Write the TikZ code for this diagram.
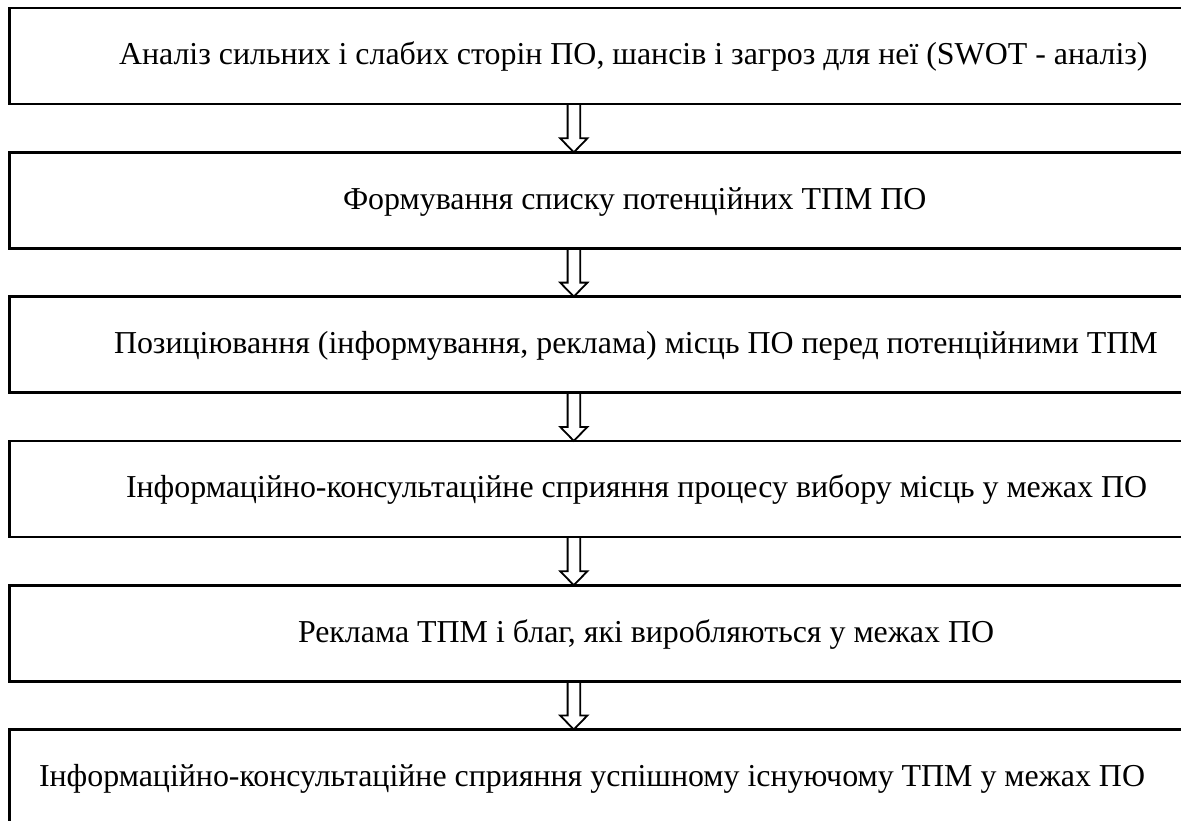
\documentclass[tikz,border=0pt]{standalone}
\usepackage{fontspec}
\setmainfont{Liberation Serif}
\tikzset{
  box/.style={draw, line width=2.6pt, rectangle, minimum width=1191pt, minimum height=96pt, outer sep=0pt, inner sep=0pt, anchor=north west},
  lbl/.style={anchor=base west, inner sep=0pt, outer sep=0pt, font=\fontsize{31.9}{38}\selectfont},
  harrow/.style={draw, line width=1.8pt, line join=miter}
}
\newcommand\hollowarr[2]{%
  \draw[harrow] ([xshift=-37.4pt]#1.south) -- ([xshift=-37.4pt,yshift=14pt]#2.north)
    -- ([xshift=-44.8pt,yshift=14pt]#2.north) -- ([xshift=-31.2pt]#2.north)
    -- ([xshift=-17.6pt,yshift=14pt]#2.north) -- ([xshift=-24.8pt,yshift=14pt]#2.north)
    -- ([xshift=-24.8pt]#1.south);%
}
\begin{document}
\begin{tikzpicture}[x=1pt,y=-1pt]
\useasboundingbox (0,0) rectangle (1181,821);
\clip (0,0) rectangle (1181,821);
\node[box] (b1) at (9.5,8) {};
\node[box] (b2) at (9.5,152.3) {};
\node[box] (b3) at (9.5,296.6) {};
\node[box] (b4) at (9.5,440.9) {};
\node[box] (b5) at (9.5,585.2) {};
\node[box] (b6) at (9.5,729.5) {};
\node[lbl] (t1) at (119,65) {Аналіз сильних і слабих сторін ПО, шансів і загроз для неї (SWOT - аналіз)};
\node[lbl] (t2) at (343,209.3) {Формування списку потенційних ТПМ ПО};
\node[lbl] (t3) at (114,353.6) {Позиціювання (інформування, реклама) місць ПО перед потенційними ТПМ};
\node[lbl] (t4) at (126,497.9) {Інформаційно-консультаційне сприяння процесу вибору місць у межах ПО};
\node[lbl] (t5) at (298,642.2) {Реклама ТПМ і благ, які виробляються у межах ПО};
\node[lbl] (t6) at (39,786.5) {Інформаційно-консультаційне сприяння успішному існуючому ТПМ у межах ПО};
\hollowarr{b1}{b2}
\hollowarr{b2}{b3}
\hollowarr{b3}{b4}
\hollowarr{b4}{b5}
\hollowarr{b5}{b6}
\end{tikzpicture}
\end{document}
